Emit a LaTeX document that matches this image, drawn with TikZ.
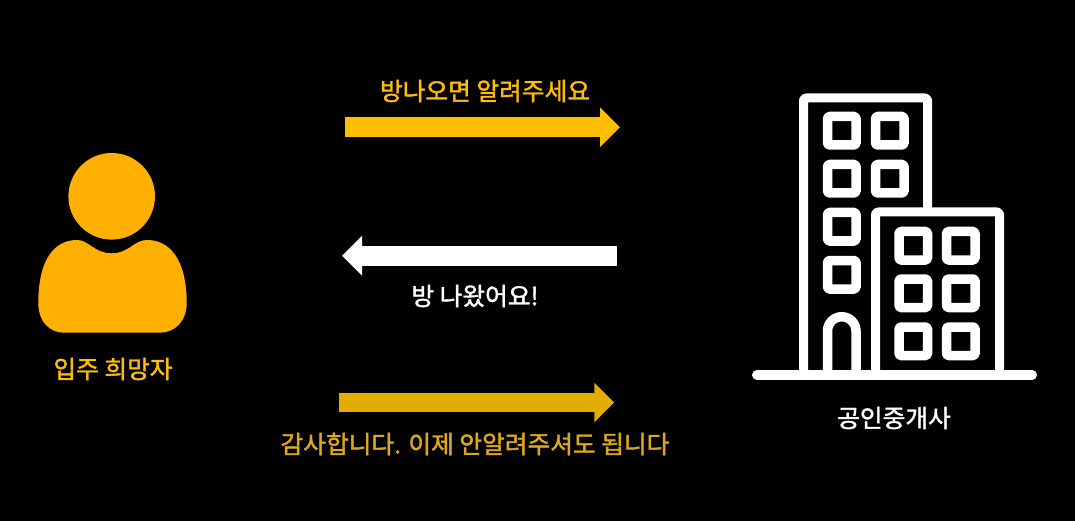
\documentclass[tikz,border=0pt]{standalone}
\usepackage{fontspec}
\usetikzlibrary{arrows.meta}
\setmainfont{Noto Sans CJK KR}[FakeBold=1.6]
\definecolor{personc}{HTML}{FFB000}
\definecolor{arrowa}{HTML}{FFBE00}
\definecolor{arrowc}{HTML}{E2AC00}
\definecolor{labela}{HTML}{FFBC0A}
\definecolor{labelc}{HTML}{DDA81A}
\tikzset{
  x=1pt,y=-1pt,
  lbl/.style={inner sep=0pt,font=\fontsize{24.7}{28}\selectfont},
  flow/.style={line width=19.6pt,-{Triangle[length=20pt,width=38.4pt]}},
  bld/.style={draw=white,line width=9pt,rounded corners=2.5pt,line join=round},
  win/.style={draw=white,line width=9.5pt,rounded corners=1.5pt,line join=round},
}
\begin{document}
\begin{tikzpicture}
\useasboundingbox (0,0) rectangle (1075,521);
\fill[black] (0,0) rectangle (1075,521);

% person
\fill[personc] (111.7,196.3) circle[radius=43.3];
\fill[personc] (77,240) .. controls (89,240) and (94,253.3) .. (111.7,253.3)
  .. controls (129,253.3) and (134,240) .. (147,240)
  .. controls (170,240) and (186.7,260) .. (186.7,303)
  .. controls (186.7,322) and (174,332.7) .. (160,332.7)
  -- (64,332.7)
  .. controls (50,332.7) and (38.3,322) .. (38.3,303)
  .. controls (38.3,260) and (54,240) .. (77,240) -- cycle;
\node[lbl,text=labela] (seeker) at (113,369) {입주 희망자};

% arrows
\coordinate (a1s) at (345,127.3);
\coordinate (a1e) at (620,127.3);
\coordinate (a2s) at (616.7,255.7);
\coordinate (a2e) at (342,255.7);
\coordinate (a3s) at (339.3,402.5);
\coordinate (a3e) at (614.3,402.5);
\draw[flow,draw=arrowa,fill=arrowa] (a1s) -- (a1e);
\draw[flow,draw=white,fill=white] (a2s) -- (a2e);
\draw[flow,draw=arrowc,fill=arrowc] (a3s) -- (a3e);
\node[lbl,text=labela] (msga) at (485,91) {방나오면 알려주세요};
\node[lbl,text=white] (msgb) at (475,296) {방 나왔어요!};
\node[lbl,text=labelc] (msgc) at (475,444) {감사합니다. 이제 안알려주셔도 됩니다};

% buildings
\draw[bld] (803.5,375) -- (803.5,98) -- (927.5,98) -- (927.5,212);
\draw[bld] (875.5,375) -- (875.5,212) -- (999.5,212) -- (999.5,375);
\foreach \wx in {827.5,875.5}
  \foreach \wy in {116.5,164.5}
    \draw[win] (\wx,\wy) rectangle ++(28.5,28.5);
\foreach \wy in {212.5,260.5}
  \draw[win] (827.5,\wy) rectangle ++(28.5,28.5);
\foreach \wx in {899,946.5}
  \foreach \wy in {231.5,279,327}
    \draw[win] (\wx,\wy) rectangle ++(28.5,28.5);
\draw[draw=white,line width=9.5pt] (827.5,375) -- (827.5,331) arc[start angle=180,end angle=360,radius=14.25] -- (856,375);
\draw[white,line width=10pt,line cap=round] (757,375) -- (1032,375);
\node[lbl,text=white] (agent) at (894,418) {공인중개사};
\end{tikzpicture}
\end{document}
